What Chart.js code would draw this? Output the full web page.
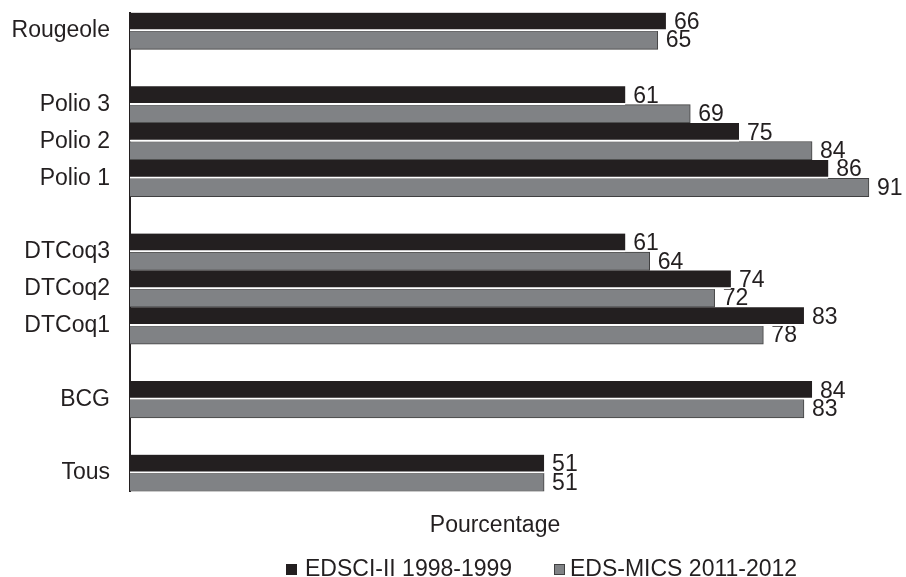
<!DOCTYPE html>
<html>
<head>
<meta charset="utf-8">
<script src="https://cdn.jsdelivr.net/npm/chart.js@4"></script>
<style>
    html, body { margin: 0; padding: 0; background: #fff; }
    #wrap { width: 906px; height: 577px; }
</style>
</head>
<body>
<div id="wrap"><canvas id="vaccChart" width="906" height="577"></canvas></div>
<script>
// blank labels leave a gap between antigen groups
const categories = ["Rougeole", "", "Polio 3", "Polio 2", "Polio 1", "", "DTCoq3", "DTCoq2", "DTCoq1", "", "BCG", "", "Tous"];
const edsci1999 = [66, null, 61, 75, 86, null, 61, 74, 83, null, 84, null, 51];
const edsMics2012 = [65, null, 69, 84, 91, null, 64, 72, 78, null, 83, null, 51];
const seriesNames = ["EDSCI-II 1998-1999", "EDS-MICS 2011-2012"];
const axisTitle = "Pourcentage";

const FONT = "'Liberation Sans', Arial, sans-serif";
const INK = "#231f20";
const GREY = "#808285";
const GREY_EDGE = "#404041";

/* value labels go under the bars, so the next bar can cover them */
const valueLabels = {
    id: "valueLabels",
    beforeDatasetsDraw(chart) {
        const ctx = chart.ctx;
        ctx.save();
        ctx.font = "23px " + FONT;
        ctx.fillStyle = INK;
        ctx.textAlign = "left";
        ctx.textBaseline = "middle";
        chart.data.datasets.forEach((ds, i) => {
            chart.getDatasetMeta(i).data.forEach((bar, j) => {
                const v = ds.data[j];
                if (v === null) return;
                ctx.fillText(String(v), bar.x + 8, bar.y + 1);
            });
        });
        ctx.restore();
    }
};

/* axis title and legend row under the plot */
const footer = {
    id: "footer",
    afterDraw(chart) {
        const ctx = chart.ctx;
        ctx.save();
        ctx.font = "23px " + FONT;
        ctx.fillStyle = INK;
        ctx.textBaseline = "middle";
        ctx.textAlign = "center";
        ctx.fillText(axisTitle, 495, 526);

        ctx.textAlign = "left";
        const items = [
            { x: 286, fill: INK, edge: null },
            { x: 554, fill: GREY, edge: GREY_EDGE }
        ];
        items.forEach((it, i) => {
            ctx.fillStyle = it.fill;
            ctx.fillRect(it.x, 564, 11, 11);
            if (it.edge) {
                ctx.strokeStyle = it.edge;
                ctx.lineWidth = 1;
                ctx.strokeRect(it.x + 0.5, 564.5, 10, 10);
            }
            ctx.fillStyle = INK;
            ctx.fillText(seriesNames[i], it.x + 19 - (i ? 3 : 0), 570);
        });
        ctx.restore();
    }
};

new Chart(document.getElementById("vaccChart").getContext("2d"), {
    type: "bar",
    data: {
        labels: categories,
        datasets: [{
            label: seriesNames[0],
            data: edsci1999,
            backgroundColor: INK,
            borderColor: "#ffffff",
            borderWidth: { top: 0, right: 0, bottom: 2, left: 0 },
            borderSkipped: false,
            categoryPercentage: 1,
            barPercentage: 1
        }, {
            label: seriesNames[1],
            data: edsMics2012,
            backgroundColor: GREY,
            borderColor: GREY_EDGE,
            borderWidth: 1,
            borderSkipped: "left",
            categoryPercentage: 1,
            barPercentage: 1
        }]
    },
    options: {
        indexAxis: "y",
        responsive: false,
        animation: false,
        layout: {
            padding: { top: 12.5, right: 4.6, bottom: 85.5, left: 0 }
        },
        plugins: {
            legend: { display: false },
            tooltip: { enabled: false }
        },
        scales: {
            x: {
                display: false,
                min: 0,
                max: 95
            },
            y: {
                afterFit(scale) { scale.width = 130; },
                // tick marks stay hidden; their length only pushes the labels left
                grid: { display: false, drawTicks: true, tickLength: 20 },
                border: { display: true, color: INK, width: 2 },
                ticks: {
                    autoSkip: false,
                    padding: 0,
                    color: INK,
                    font: { family: FONT, size: 23, lineHeight: 1 }
                }
            }
        }
    },
    plugins: [valueLabels, footer]
});
</script>
</body>
</html>
